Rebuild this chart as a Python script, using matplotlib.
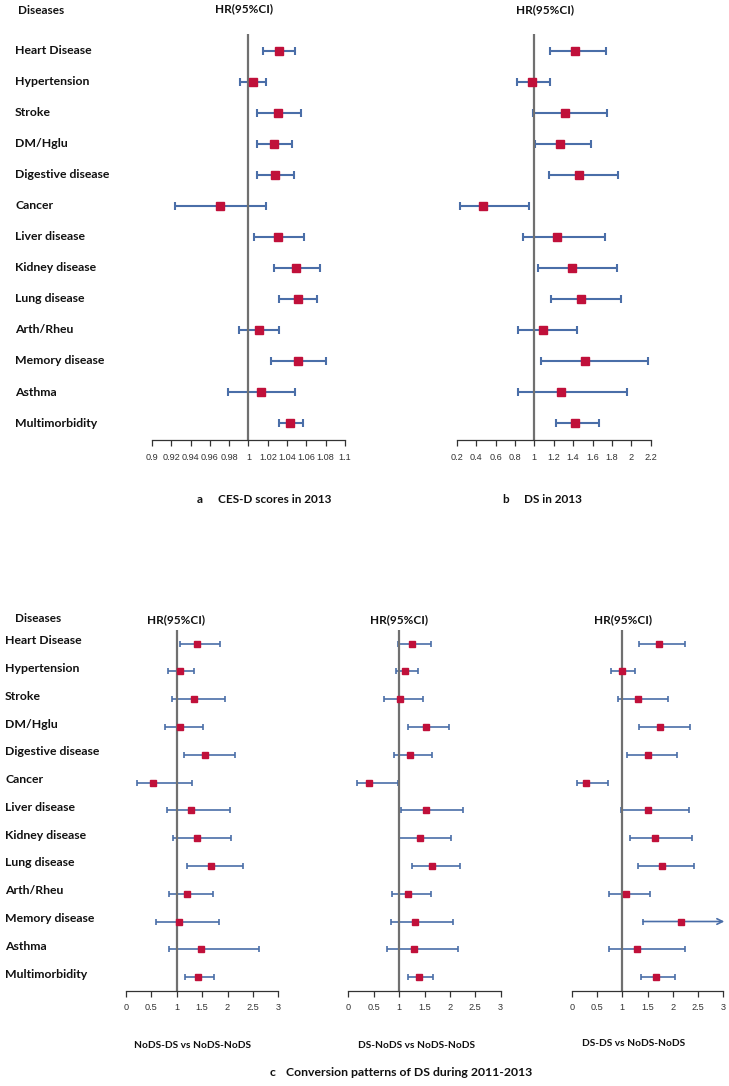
import matplotlib
matplotlib.use("Agg")
import matplotlib.pyplot as plt
import numpy as np

W, H = 729, 1086

diseases = ["Heart Disease", "Hypertension", "Stroke", "DM/Hglu", "Digestive disease",
            "Cancer", "Liver disease", "Kidney disease", "Lung disease", "Arth/Rheu",
            "Memory disease", "Asthma", "Multimorbidity"]

# Panel a: CES-D scores in 2013
a_hr = [1.032, 1.0045, 1.031, 1.0263, 1.0277, 0.970, 1.031, 1.0494, 1.0512, 1.0108, 1.0512, 1.0126, 1.043]
a_lo = [1.0155, 0.9914, 1.0087, 1.0087, 1.0087, 0.924, 1.0059, 1.0266, 1.0318, 0.9904, 1.0232, 0.979, 1.0314]
a_hi = [1.048, 1.018, 1.0546, 1.0453, 1.0474, 1.018, 1.0574, 1.0736, 1.0712, 1.032, 1.0805, 1.0478, 1.056]
a_ticks = [0.9, 0.92, 0.94, 0.96, 0.98, 1, 1.02, 1.04, 1.06, 1.08, 1.1]
a_ticklabels = ["0.9", "0.92", "0.94", "0.96", "0.98", "1", "1.02", "1.04", "1.06", "1.08", "1.1"]

# Panel b: DS in 2013
b_hr = [1.42, 0.976, 1.32, 1.262, 1.461, 0.471, 1.234, 1.389, 1.485, 1.093, 1.526, 1.275, 1.424]
b_lo = [1.162, 0.819, 0.99, 1.007, 1.151, 0.234, 0.884, 1.041, 1.172, 0.832, 1.072, 0.836, 1.227]
b_hi = [1.736, 1.165, 1.753, 1.588, 1.86, 0.945, 1.725, 1.853, 1.89, 1.44, 2.169, 1.954, 1.665]
b_ticks = [0.2, 0.4, 0.6, 0.8, 1, 1.2, 1.4, 1.6, 1.8, 2, 2.2]
b_ticklabels = ["0.2", "0.4", "0.6", "0.8", "1", "1.2", "1.4", "1.6", "1.8", "2", "2.2"]

# Panel c1: NoDS-DS vs NoDS-NoDS
c1_hr = [1.405, 1.057, 1.333, 1.07, 1.563, 0.538, 1.287, 1.392, 1.668, 1.208, 1.038, 1.484, 1.411]
c1_lo = [1.064, 0.834, 0.913, 0.762, 1.142, 0.223, 0.808, 0.932, 1.202, 0.854, 0.584, 0.847, 1.155]
c1_hi = [1.85, 1.333, 1.95, 1.517, 2.147, 1.30, 2.042, 2.075, 2.305, 1.707, 1.832, 2.613, 1.727]

# Panel c2: DS-NoDS vs NoDS-NoDS
c2_hr = [1.259, 1.121, 1.015, 1.523, 1.213, 0.409, 1.53, 1.418, 1.655, 1.18, 1.312, 1.286, 1.391]
c2_lo = [0.976, 0.93, 0.705, 1.174, 0.897, 0.165, 1.029, 0.996, 1.246, 0.864, 0.831, 0.771, 1.167]
c2_hi = [1.622, 1.365, 1.464, 1.978, 1.648, 0.976, 2.255, 2.024, 2.196, 1.622, 2.057, 2.169, 1.668]

# Panel c3: DS-DS vs NoDS-NoDS
c3_hr = [1.73, 0.993, 1.309, 1.757, 1.507, 0.283, 1.513, 1.651, 1.783, 1.066, 2.158, 1.289, 1.664]
c3_lo = [1.336, 0.783, 0.908, 1.329, 1.092, 0.105, 0.98, 1.151, 1.309, 0.73, 1.414, 0.737, 1.362]
c3_hi = [2.25, 1.257, 1.901, 2.336, 2.086, 0.724, 2.329, 2.375, 2.421, 1.559, 3.4, 2.25, 2.039]

c_ticks = [0, 0.5, 1, 1.5, 2, 2.5, 3]
c_ticklabels = ["0", "0.5", "1", "1.5", "2", "2.5", "3"]

BLUE = "#4a6ea8"
RED = "#c0103a"
GRAY = "#707070"
LABEL_FONT = ["Lato", "DejaVu Sans"]
TICK_FONT = ["Liberation Sans", "DejaVu Sans"]

fig = plt.figure(figsize=(W / 100, H / 100), dpi=100)


def fx(x):
    return x / W


def fy(y):
    return 1 - y / H


def panel(x0, x1, ytop, ybot, row0, row_step, hr, lo, hi, ticks, ticklabels,
          lw, cap, ms, tickfs):
    ax = fig.add_axes([fx(x0), fy(ybot), (x1 - x0) / W, (ybot - ytop) / H])
    xmin, xmax = ticks[0], ticks[-1]
    ax.set_xlim(xmin, xmax)
    top_i = (ytop - row0) / row_step
    bot_i = (ybot - row0) / row_step
    ax.set_ylim(bot_i, top_i)
    idx = np.arange(len(hr))
    hr = np.array(hr)
    lo = np.array(lo)
    hi = np.array(hi)
    for i in idx:
        if hi[i] <= xmax:
            ax.hlines(i, lo[i], hi[i], color=BLUE, lw=lw, zorder=2)
            ax.plot([lo[i], hi[i]], [i, i], ls="none", marker="|", ms=cap,
                    mew=lw, color=BLUE, zorder=2)
        else:
            ax.annotate("", xy=(xmax + 0.02, i), xytext=(lo[i], i),
                        arrowprops=dict(arrowstyle="->", color=BLUE, lw=lw,
                                        shrinkA=0, shrinkB=0, mutation_scale=10),
                        zorder=2, annotation_clip=False)
            ax.plot([lo[i]], [i], ls="none", marker="|", ms=cap, mew=lw,
                    color=BLUE, zorder=2)
    ax.axvline(1, color=GRAY, lw=1.6, zorder=2.5)
    ax.plot(hr, idx, ls="none", marker="s", ms=ms, color=RED, mec=RED, zorder=3)
    for s in ["top", "left", "right"]:
        ax.spines[s].set_visible(False)
    ax.spines["bottom"].set_color("#333333")
    ax.spines["bottom"].set_linewidth(0.9)
    ax.set_yticks([])
    ax.set_xticks(ticks)
    ax.set_xticklabels(ticklabels, fontsize=tickfs, family=TICK_FONT, color="#333333")
    ax.tick_params(axis="x", direction="out", length=4, width=0.9, color="#333333", pad=5)
    ax.patch.set_alpha(0)
    return ax


# Top panels
top_row0, top_step = 50.7, 31.03
panel(152, 345, 34, 440, top_row0, top_step, a_hr, a_lo, a_hi, a_ticks, a_ticklabels,
      1.5, 5.5, 5.5, 6.6)
panel(456.7, 650.7, 34, 440, top_row0, top_step, b_hr, b_lo, b_hi, b_ticks, b_ticklabels,
      1.5, 5.5, 5.5, 6.6)

# Bottom panels
bot_row0, bot_step = 643.7, 27.78
panel(126, 278.3, 630, 991, bot_row0, bot_step, c1_hr, c1_lo, c1_hi, c_ticks, c_ticklabels,
      1.2, 4.5, 4.6, 6.6)
panel(348.3, 500.7, 630, 991, bot_row0, bot_step, c2_hr, c2_lo, c2_hi, c_ticks, c_ticklabels,
      1.2, 4.5, 4.6, 6.6)
panel(571.7, 723.3, 630, 991, bot_row0, bot_step, c3_hr, c3_lo, c3_hi, c_ticks, c_ticklabels,
      1.2, 4.5, 4.6, 6.6)

lab = dict(family=LABEL_FONT, fontweight="bold", color="#111111")

# Disease labels
for i, d in enumerate(diseases):
    fig.text(fx(15), fy(top_row0 + i * top_step), d, ha="left", va="center", fontsize=8.8, **lab)
    fig.text(fx(5), fy(bot_row0 + i * bot_step - 3), d, ha="left", va="center", fontsize=8.8, **lab)

# Headers
fig.text(fx(18), fy(10), "Diseases", ha="left", va="center", fontsize=8.5, **lab)
fig.text(fx(244), fy(9), "HR(95%CI)", ha="center", va="center", fontsize=8.5, **lab)
fig.text(fx(545), fy(10), "HR(95%CI)", ha="center", va="center", fontsize=8.5, **lab)
fig.text(fx(15), fy(619), "Diseases", ha="left", va="center", fontsize=8.5, **lab)
for cx in [176, 399, 623]:
    fig.text(fx(cx), fy(620), "HR(95%CI)", ha="center", va="center", fontsize=8.5, **lab)

# Captions
fig.text(fx(197), fy(500), "a", ha="left", va="center", fontsize=8.5, **lab)
fig.text(fx(218), fy(500), "CES-D scores in 2013", ha="left", va="center", fontsize=8.5, **lab)
fig.text(fx(502), fy(500), "b", ha="left", va="center", fontsize=8.5, **lab)
fig.text(fx(524), fy(500), "DS in 2013", ha="left", va="center", fontsize=8.5, **lab)

fig.text(fx(193), fy(1045), "NoDS-DS vs NoDS-NoDS", ha="center", va="center", fontsize=7.3, **lab)
fig.text(fx(416), fy(1045), "DS-NoDS vs NoDS-NoDS", ha="center", va="center", fontsize=7.3, **lab)
fig.text(fx(634), fy(1043), "DS-DS vs NoDS-NoDS", ha="center", va="center", fontsize=7.3, **lab)
fig.text(fx(270), fy(1073), "c", ha="left", va="center", fontsize=8.8, **lab)
fig.text(fx(286), fy(1073), "Conversion patterns of DS during 2011-2013", ha="left", va="center",
         fontsize=8.8, **lab)

fig.savefig("out.png", dpi=100, facecolor="white")
